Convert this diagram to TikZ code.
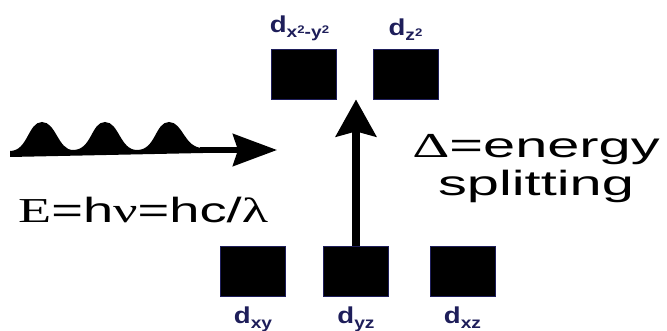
\documentclass[tikz,border=0pt]{standalone}
\usepackage{fontspec}
\setmainfont{Liberation Sans}
\newfontfamily\serifface{Liberation Serif}
\usepackage{xcolor}
\definecolor{orbitalnavy}{HTML}{1E1E5A}
\usetikzlibrary{positioning,arrows.meta}

\newcommand{\wide}[2][1.65]{\scalebox{#1}[1]{#2}}
\newcommand{\orb}[1]{\scalebox{1.2}[1]{d\raisebox{-5pt}{\fontsize{16}{16}\selectfont #1}}}
\newcommand{\sq}{\raisebox{4pt}{\fontsize{11}{11}\selectfont 2}}

\begin{document}
\begin{tikzpicture}[x=1pt, y=-1pt,
  orbital/.style={draw=orbitalnavy, fill=black, line width=0.8pt,
    minimum width=65pt, minimum height=50pt, inner sep=0pt},
  orblabel/.style={font=\bfseries\fontsize{23}{23}\selectfont, text=orbitalnavy, inner sep=0pt},
  bigtext/.style={font=\fontsize{35}{38}\selectfont, inner sep=0pt}]
  \useasboundingbox (0,0) rectangle (667,331);

  \node[orbital] (dx2y2) at (303.5,74) {};
  \node[orbital] (dz2)   at (405.5,74) {};
  \node[orblabel, above=8pt of dx2y2, xshift=-4pt] {\orb{x\sq-y\sq}};
  \node[orblabel, above=8pt of dz2]                {\orb{z\sq}};

  \foreach \x/\name/\sub in {253/dxy/xy, 356/dyz/yz, 462.5/dxz/xz}{
    \node[orbital] (\name) at (\x,271) {};
    \node[orblabel, below=10pt of \name] {\orb{\sub}};
  }

  \draw[line width=8pt, -{Stealth[length=37pt, width=40pt, inset=5pt]}]
    (dyz.north) -- (dyz.north |- dx2y2.south);

  \fill (10,157) -- (10,151)
    .. controls (28,151) and (28,122) .. (42,122)
    .. controls (56,122) and (58,150) .. (73,150)
    .. controls (92,150) and (91,122) .. (105,122)
    .. controls (119,122) and (120,150) .. (137,150)
    .. controls (156,150) and (155,122) .. (169,122)
    .. controls (183,122) and (184,148) .. (203,148)
    -- (203,153) -- cycle;
  \draw[line width=6pt, -{Stealth[length=44pt, width=32pt, inset=5pt]}]
    (200,150) -- (277,150);

  \node[bigtext, anchor=base west] (energy) at (18,223)
    {\wide[1.55]{{\serifface E}=h{\serifface ν}=hc/{\serifface λ}}};
  \node[bigtext, align=center, anchor=north] (split) at (536,134)
    {\wide{{\serifface Δ}=energy}\\\wide{splitting}};
\end{tikzpicture}
\end{document}
